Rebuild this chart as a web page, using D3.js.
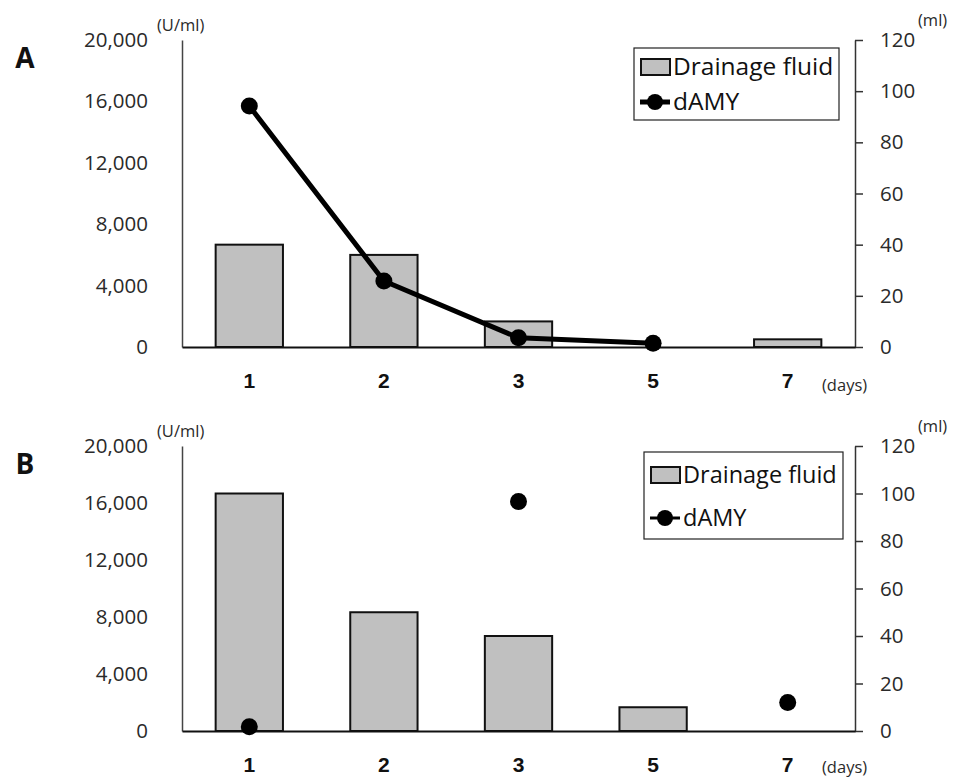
<!DOCTYPE html>
<html>
<head>
<meta charset="utf-8">
<script src="https://cdn.jsdelivr.net/npm/d3@7"></script>
<style>
  html, body { margin: 0; padding: 0; background: #fff; }
  svg { display: block; font-family: "Open Sans", "Noto Sans", sans-serif; }
</style>
</head>
<body>
<svg id="chart" width="955" height="778"></svg>
<script>
// ---- Data ----
const days = ["1", "2", "3", "5", "7"];
const drainageA = [40, 36, 10, 0, 3];          // ml (right axis)
const dAmyA = [15700, 4300, 600, 250, null];  // U/ml (left axis)
const drainageB = [100, 50, 40, 10, 0];
const dAmyB = [300, null, 16100, null, 2000];
const leftTicks = [0, 4000, 8000, 12000, 16000, 20000];
const rightTicks = [0, 20, 40, 60, 80, 100, 120];
const seriesNames = ["Drainage fluid", "dAMY"];

const svg = d3.select("#chart");
const fmt = d3.format(",");

const panels = [
  { label: "A", drainage: drainageA, amy: dAmyA, top: 40, bottom: 347, connect: true, daysDy: 44,
    legend: { x: 634, y: 48, w: 205, h: 72, row1: 67, row2: 102, fs: 24.5, lineW: 5 } },
  { label: "B", drainage: drainageB, amy: dAmyB, top: 446, bottom: 731, connect: false, daysDy: 42,
    legend: { x: 644, y: 452, w: 199, h: 87, row1: 475, row2: 518, fs: 23.5, lineW: 3 } }
];

const xLeft = 182, xRight = 855;

panels.forEach(p => {
  const g = svg.append("g");
  const x = d3.scaleBand().domain(days).range([xLeft, xRight]).paddingInner(0.5).paddingOuter(0.25);
  const yL = d3.scaleLinear().domain([0, 20000]).range([p.bottom, p.top]);
  const yR = d3.scaleLinear().domain([0, 120]).range([p.bottom, p.top]);

  // Panel label
  g.append("text").attr("x", 25).attr("y", p.top + 28).attr("text-anchor", "middle")
    .attr("font-size", 28).attr("font-weight", "bold").attr("fill", "#111").text(p.label);

  // Left axis
  const axL = g.append("g").attr("transform", `translate(${xLeft},0)`)
    .call(d3.axisLeft(yL).tickValues(leftTicks).tickFormat(fmt).tickSize(0).tickPadding(34));
  axL.select(".domain").attr("stroke", "#444").attr("stroke-width", 1.5);
  axL.selectAll("text").attr("font-size", 20.5).attr("fill", "#2a2a2a").attr("font-family", "Open Sans");

  // Right axis
  const axR = g.append("g").attr("transform", `translate(${xRight},0)`)
    .call(d3.axisRight(yR).tickValues(rightTicks).tickSizeInner(8).tickSizeOuter(0).tickPadding(17));
  axR.select(".domain").attr("stroke", "#333").attr("stroke-width", 1.5);
  axR.selectAll(".tick line").attr("stroke", "#333").attr("stroke-width", 1.5);
  axR.selectAll("text").attr("font-size", 20.5).attr("fill", "#2a2a2a").attr("font-family", "Open Sans");

  // Unit labels
  g.append("text").attr("x", 157).attr("y", p.top - 9).attr("font-size", 16.5).attr("fill", "#2a2a2a").text("(U/ml)");
  g.append("text").attr("x", 918).attr("y", p.top - 14).attr("font-size", 16.5).attr("fill", "#2a2a2a").text("(ml)");

  // Bars
  const bars = days.map((d, i) => ({ d, v: p.drainage[i] })).filter(o => o.v > 0);
  g.selectAll("rect.bar").data(bars).join("rect").attr("class", "bar")
    .attr("x", o => x(o.d)).attr("width", x.bandwidth())
    .attr("y", o => yR(o.v)).attr("height", o => yR(0) - yR(o.v))
    .attr("fill", "#c0c0c0").attr("stroke", "#111").attr("stroke-width", 2);

  // Baseline (x axis)
  const axX = g.append("g").attr("transform", `translate(0,${p.bottom})`)
    .call(d3.axisBottom(x).tickSize(0).tickPadding(26));
  axX.select(".domain").attr("stroke", "#111").attr("stroke-width", 2.2);
  axX.selectAll("text").attr("font-size", 21).attr("font-weight", "bold").attr("fill", "#111");
  g.append("text").attr("x", 822).attr("y", p.bottom + p.daysDy).attr("font-size", 16.5).attr("fill", "#2a2a2a").text("(days)");

  // dAMY
  const pts = days.map((d, i) => ({ d, v: p.amy[i] }));
  if (p.connect) {
    const line = d3.line().defined(o => o.v != null)
      .x(o => x(o.d) + x.bandwidth() / 2).y(o => yL(o.v));
    g.append("path").datum(pts).attr("d", line).attr("fill", "none")
      .attr("stroke", "#000").attr("stroke-width", 5).attr("stroke-linejoin", "round");
  }
  g.selectAll("circle.pt").data(pts.filter(o => o.v != null)).join("circle").attr("class", "pt")
    .attr("cx", o => x(o.d) + x.bandwidth() / 2).attr("cy", o => yL(o.v))
    .attr("r", 8.5).attr("fill", "#000");

  // Legend
  const L = p.legend;
  const lg = g.append("g");
  lg.append("rect").attr("x", L.x).attr("y", L.y).attr("width", L.w).attr("height", L.h)
    .attr("fill", "#fff").attr("stroke", "#222").attr("stroke-width", 1.2);
  lg.append("rect").attr("x", L.x + 7).attr("y", L.row1 - 8).attr("width", 29).attr("height", 16)
    .attr("fill", "#c0c0c0").attr("stroke", "#111").attr("stroke-width", 2);
  lg.append("text").attr("x", L.x + 39).attr("y", L.row1 + 8).attr("font-size", L.fs).attr("fill", "#111").text(seriesNames[0]);
  lg.append("line").attr("x1", L.x + 6).attr("x2", L.x + 36).attr("y1", L.row2).attr("y2", L.row2)
    .attr("stroke", "#000").attr("stroke-width", L.lineW);
  lg.append("circle").attr("cx", L.x + 21).attr("cy", L.row2).attr("r", 8).attr("fill", "#000");
  lg.append("text").attr("x", L.x + 39).attr("y", L.row2 + 8).attr("font-size", L.fs).attr("fill", "#111").text(seriesNames[1]);
});
</script>
</body>
</html>
